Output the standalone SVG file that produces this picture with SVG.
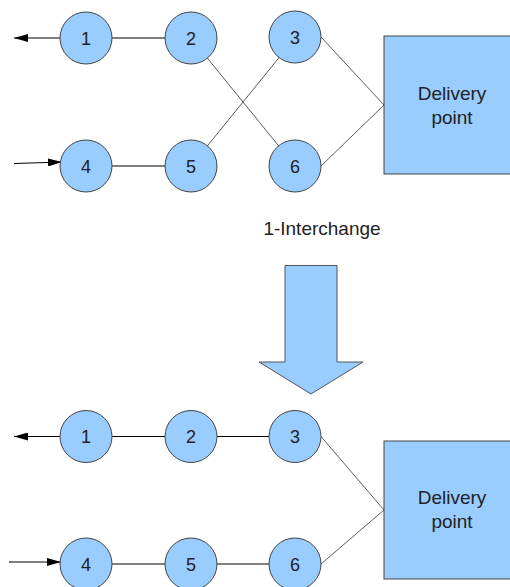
<svg xmlns="http://www.w3.org/2000/svg" width="510" height="587" viewBox="0 0 510 587">
  <defs>
    <marker id="head" viewBox="0 0 14 8" refX="14" refY="4" markerWidth="14" markerHeight="8" markerUnits="userSpaceOnUse" orient="auto">
      <path d="M0,0 L14,4 L0,8 Z" fill="#000"/>
    </marker>
    <style>
      .node circle { fill: #99ccff; stroke: #444; stroke-width: 1; }
      .box rect { fill: #99ccff; stroke: #444; stroke-width: 1; }
      .lbl { font-family: "Liberation Sans", Arial, sans-serif; fill: #222; text-anchor: middle; }
      .num { font-size: 18px; }
      .big { font-size: 19px; }
      .link { stroke: #000; stroke-width: 1; fill: none; }
      .thin { stroke: #333; stroke-width: 0.8; fill: none; }
    </style>
  </defs>

  <rect width="510" height="587" fill="#fff"/>

  <!-- connectors -->
  <g id="connectors">
    <!-- before -->
    <line class="link" x1="60" y1="38" x2="14" y2="38" marker-end="url(#head)"/>
    <line class="link" x1="14" y1="163.5" x2="62" y2="162" marker-end="url(#head)"/>
    <line class="link" x1="112" y1="38" x2="165" y2="38"/>
    <line class="link" x1="112" y1="166" x2="165" y2="166"/>
    <line class="thin" x1="191" y1="38" x2="295" y2="166"/>
    <line class="thin" x1="191" y1="166" x2="295" y2="38"/>
    <line class="thin" x1="321" y1="37" x2="384" y2="105"/>
    <line class="thin" x1="321" y1="166" x2="384" y2="105"/>
    <!-- after -->
    <line class="link" x1="60" y1="436.5" x2="14" y2="436.5" marker-end="url(#head)"/>
    <line class="link" x1="9" y1="562" x2="61" y2="562" marker-end="url(#head)"/>
    <line class="link" x1="112" y1="436.5" x2="165" y2="436.5"/>
    <line class="link" x1="217" y1="436.5" x2="269" y2="436.5"/>
    <line class="link" x1="112" y1="564" x2="165" y2="564"/>
    <line class="link" x1="217" y1="564" x2="269" y2="564"/>
    <line class="thin" x1="321" y1="436.5" x2="384" y2="510"/>
    <line class="thin" x1="321" y1="564" x2="384" y2="510"/>
  </g>

  <!-- before interchange -->
  <g id="n1a" class="node"><circle cx="86" cy="38" r="26"/><text class="lbl num" x="86" y="44.5">1</text></g>
  <g id="n2a" class="node"><circle cx="191" cy="38" r="26"/><text class="lbl num" x="191" y="44.5">2</text></g>
  <g id="n3a" class="node"><circle cx="295" cy="37" r="26"/><text class="lbl num" x="295" y="43.5">3</text></g>
  <g id="n4a" class="node"><circle cx="86" cy="166" r="26"/><text class="lbl num" x="86" y="172.5">4</text></g>
  <g id="n5a" class="node"><circle cx="191" cy="166" r="26"/><text class="lbl num" x="191" y="172.5">5</text></g>
  <g id="n6a" class="node"><circle cx="295" cy="166" r="26"/><text class="lbl num" x="295" y="172.5">6</text></g>
  <g id="deliveryA" class="box">
    <rect x="384" y="36" width="130" height="138"/>
    <text class="lbl big" x="452" y="100">Delivery</text>
    <text class="lbl big" x="452" y="124">point</text>
  </g>

  <!-- transition -->
  <g id="caption">
    <text class="lbl big" x="322" y="235">1-Interchange</text>
  </g>
  <g id="bigArrow">
    <path d="M285,265.5 L337,265.5 L337,362 L363,362 L311,394 L259,362 L285,362 Z" fill="#99ccff" stroke="#555" stroke-width="1"/>
  </g>

  <!-- after interchange -->
  <g id="n1b" class="node"><circle cx="86" cy="436.5" r="26"/><text class="lbl num" x="86" y="443">1</text></g>
  <g id="n2b" class="node"><circle cx="191" cy="436.5" r="26"/><text class="lbl num" x="191" y="443">2</text></g>
  <g id="n3b" class="node"><circle cx="295" cy="436.5" r="26"/><text class="lbl num" x="295" y="443">3</text></g>
  <g id="n4b" class="node"><circle cx="86" cy="564" r="26"/><text class="lbl num" x="86" y="570.5">4</text></g>
  <g id="n5b" class="node"><circle cx="191" cy="564" r="26"/><text class="lbl num" x="191" y="570.5">5</text></g>
  <g id="n6b" class="node"><circle cx="295" cy="564" r="26"/><text class="lbl num" x="295" y="570.5">6</text></g>
  <g id="deliveryB" class="box">
    <rect x="384" y="441" width="130" height="138"/>
    <text class="lbl big" x="452" y="504">Delivery</text>
    <text class="lbl big" x="452" y="528">point</text>
  </g>
</svg>
